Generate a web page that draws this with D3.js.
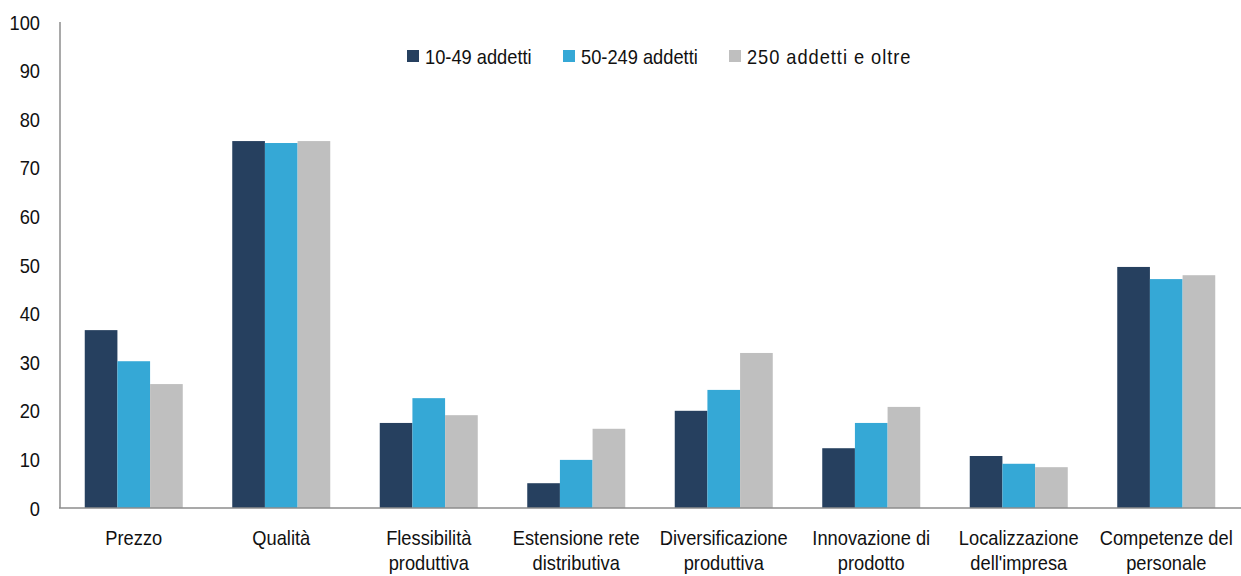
<!DOCTYPE html>
<html>
<head>
<meta charset="utf-8">
<script src="https://cdnjs.cloudflare.com/ajax/libs/d3/7.8.5/d3.min.js"></script>
<style>
  body { margin: 0; background: #fff; }
  text { font-family: "Liberation Sans", Arial, sans-serif; fill: #111; font-size: 21px; }
</style>
</head>
<body>
<div id="chart"></div>
<script>
// categories (two-line labels) and values per size class
var categories = [
  ["Prezzo"],
  ["Qualità"],
  ["Flessibilità", "produttiva"],
  ["Estensione rete", "distributiva"],
  ["Diversificazione", "produttiva"],
  ["Innovazione di", "prodotto"],
  ["Localizzazione", "dell'impresa"],
  ["Competenze del", "personale"]
];
var seriesNames = ["10-49 addetti", "50-249 addetti", "250 addetti e oltre"];
var small = [36.6, 75.5, 17.5, 5.1, 20.0, 12.3, 10.7, 49.6];
var medium = [30.2, 75.1, 22.6, 9.9, 24.3, 17.5, 9.1, 47.1];
var large = [25.5, 75.5, 19.1, 16.3, 31.9, 20.8, 8.4, 47.9];
var yTicks = [0, 10, 20, 30, 40, 50, 60, 70, 80, 90, 100];
var colors = ["#26405F", "#35A8D6", "#BFBFBF"];

var width = 1241, height = 576;
var svg = d3.select("#chart").append("svg")
    .attr("width", width)
    .attr("height", height);

var keys = categories.map(function(c, i) { return "c" + i; });
var x = d3.scaleBand().domain(keys).range([60, 1240]);
var x1 = d3.scaleBand().domain(d3.range(3)).range([0, 98]);
var y = d3.scaleLinear().domain([0, 100]).range([508, 22]);

var series = [small, medium, large];

// narrow-looking text: scale horizontally
function label(px, py, anchor) {
  return svg.append("g")
      .attr("transform", "translate(" + px + "," + py + ") scale(0.87,1)")
    .append("text")
      .attr("text-anchor", anchor || "start");
}

// bars
series.forEach(function(vals, s) {
  svg.selectAll(".bar" + s)
    .data(vals)
    .enter().append("rect")
      .attr("x", function(d, i) { return x(keys[i]) + (x.bandwidth() - 98) / 2 + x1(s); })
      .attr("width", x1.bandwidth())
      .attr("y", function(d) { return y(d); })
      .attr("height", function(d) { return y(0) - y(d); })
      .attr("fill", colors[s]);
});

// axis lines (no ticks)
svg.append("line")
    .attr("x1", 60).attr("x2", 60)
    .attr("y1", y(100)).attr("y2", y(0))
    .attr("stroke", "#8c8c8c").attr("stroke-width", 1.5);
svg.append("line")
    .attr("x1", 59).attr("x2", 1241)
    .attr("y1", y(0)).attr("y2", y(0))
    .attr("stroke", "#8c8c8c").attr("stroke-width", 1.5);

yTicks.forEach(function(d) {
  label(40, y(d), "end").attr("dy", "0.36em").text(d);
});

// category labels
categories.forEach(function(lines, i) {
  var t = label(x(keys[i]) + x.bandwidth() / 2, 545, "middle");
  lines.forEach(function(l, j) {
    t.append("tspan")
      .attr("x", 0)
      .attr("dy", j === 0 ? 0 : 25)
      .text(l);
  });
});

// legend
var legendX = [407, 563, 729];
seriesNames.forEach(function(name, s) {
  svg.append("rect")
    .attr("x", legendX[s]).attr("y", 50)
    .attr("width", 12).attr("height", 12)
    .attr("fill", colors[s]);
  label(legendX[s] + 18, 56).attr("dy", "0.36em")
    .style("letter-spacing", s === 2 ? "1.1px" : null)
    .text(name);
});
</script>
</body>
</html>
